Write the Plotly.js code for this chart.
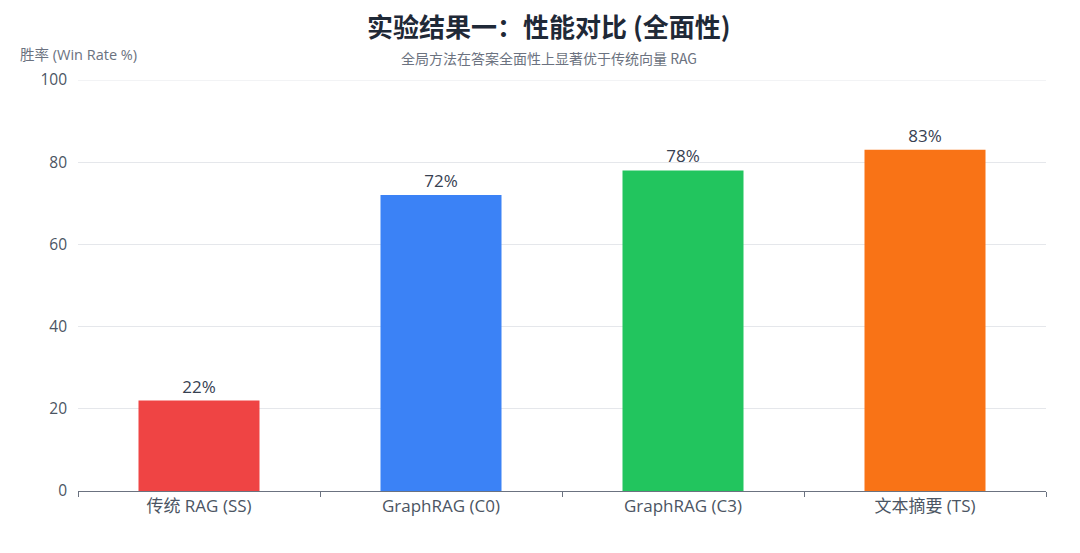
<!DOCTYPE html>
<html><head><meta charset="utf-8">
<script src="https://cdn.plot.ly/plotly-3.0.1.min.js"></script>
<style>html,body{margin:0;padding:0;background:#fff;}#c{width:1080px;height:553px;}</style>
</head><body><div id="c"></div>
<script>
const categories = ["传统 RAG (SS)", "GraphRAG (C0)", "GraphRAG (C3)", "文本摘要 (TS)"];
const winRates = [22, 72, 78, 83];
const barColors = ["#ef4444", "#3b82f6", "#22c55e", "#f97316"];
const yTickValues = [0, 20, 40, 60, 80, 100];
const yMax = 100;
const titleText = "实验结果一：性能对比 (全面性)";
const subtitleText = "全局方法在答案全面性上显著优于传统向量 RAG";
const yAxisName = "胜率 (Win Rate %)";

const FONT = '"Open Sans", "Noto Sans CJK SC", sans-serif';
const TFONT = '"Noto Sans CJK SC", "Open Sans", sans-serif';
const trace = {
  type: "bar",
  x: categories,
  y: winRates,
  width: 0.5,
  marker: {color: barColors, line: {width: 0}},
  text: winRates.map(v => v + "%"),
  textposition: "outside",
  cliponaxis: false,
  textfont: {family: FONT, size: 17, color: "#374151"},
  hoverinfo: "none"
};
const pw = 1080 - 78 - 34, ph = 553 - 80 - 62;
function px(xp){return (xp - 78) / pw;}
function py(yp){return (553 - 62 - yp) / ph;}
const layout = {
  width: 1080, height: 553,
  margin: {l: 78, r: 34, t: 80, b: 62},
  paper_bgcolor: "#fff", plot_bgcolor: "#fff",
  font: {family: FONT},
  showlegend: false,
  xaxis: {
    type: "category",
    tickson: "boundaries",
    ticks: "outside", ticklen: 5, tickcolor: "#6b7280",
    showline: true, linecolor: "#6b7280", linewidth: 1,
    showgrid: false, zeroline: false,
    tickfont: {family: FONT, size: 17, color: "#4b5563"},
    ticklabelstandoff: 0
  },
  yaxis: {
    range: [0, yMax], tickvals: yTickValues,
    showgrid: true, gridcolor: "#e5e7eb", gridwidth: 1,
    zeroline: false, showline: false, ticks: "",
    tickfont: {family: FONT, size: 15.5, color: "#4b5563"},
    ticklabelstandoff: 10
  },
  shapes: [
    {type: "line", xref: "paper", yref: "y", x0: 0, x1: 1, y0: yMax, y1: yMax,
     line: {color: "#e5e7eb", width: 1}, layer: "below"}
  ],
  title: {text: ""},
  annotations: [
    {text: "<b>" + titleText + "</b>", xref: "paper", yref: "paper", x: px(549), y: py(26),
     xanchor: "center", yanchor: "middle", showarrow: false,
     font: {family: TFONT, size: 26, color: "#1f2937"}},
    {text: subtitleText, xref: "paper", yref: "paper", x: px(549), y: py(58),
     xanchor: "center", yanchor: "middle", showarrow: false,
     font: {family: TFONT, size: 14, color: "#6b7280"}},
    {text: yAxisName, xref: "paper", yref: "paper", x: px(78), y: py(54),
     xanchor: "center", yanchor: "middle", showarrow: false,
     font: {family: FONT, size: 14.5, color: "#6b7280"}}
  ]
};
Plotly.newPlot("c", [trace], layout, {displayModeBar: false, staticPlot: true});
</script>
</body></html>
